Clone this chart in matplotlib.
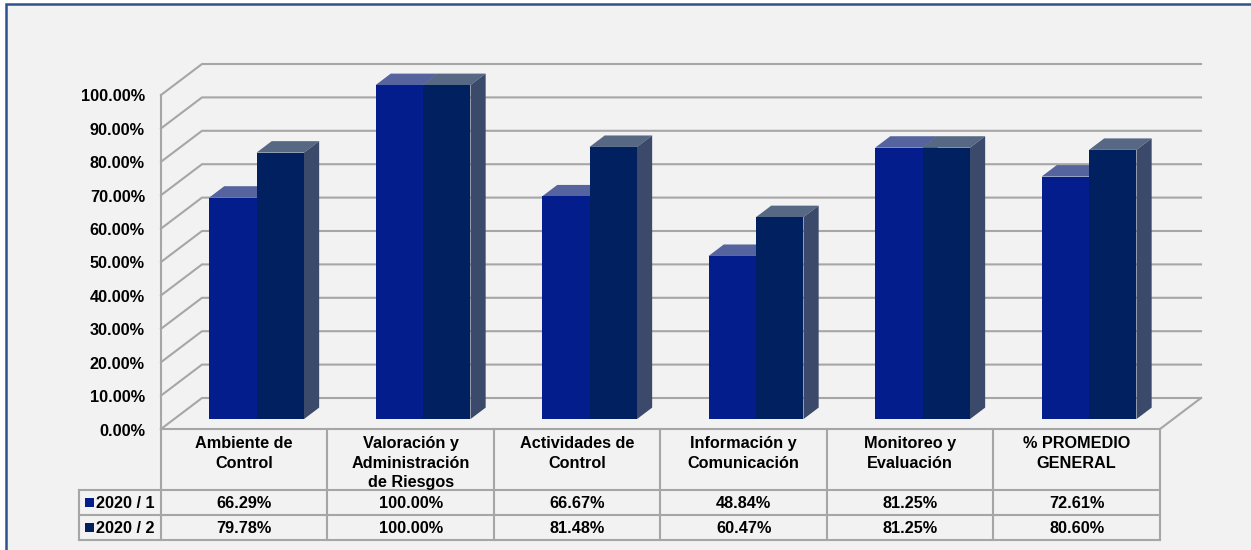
import matplotlib
matplotlib.use("Agg")
import matplotlib.pyplot as plt
from matplotlib.patches import Polygon, Rectangle

categories = ["Ambiente de\nControl", "Valoración y\nAdministración\nde Riesgos", "Actividades de\nControl",
              "Información y\nComunicación", "Monitoreo y\nEvaluación", "% PROMEDIO\nGENERAL"]
series_names = ["2020 / 1", "2020 / 2"]
values_1 = [66.29, 100.00, 66.67, 48.84, 81.25, 72.61]
values_2 = [79.78, 100.00, 81.48, 60.47, 81.25, 80.60]
y_ticks = [0, 10, 20, 30, 40, 50, 60, 70, 80, 90, 100]

# pixel scale of the picture: one category and one percent
CAT_PX = 166.5
PCT_PX = 3.34
X0_PX = 161
Y0_PX = 429
DEPTH_X = 41 / CAT_PX
DEPTH_Y = 31 / PCT_PX

FRONT = ["#041d8c", "#00205f"]
TOP = ["#55639e", "#566884"]
SIDE = "#3b4a6b"
GRID = "#a6a6a6"
BORDER = "#2f528f"
FS = 11.7

plt.rcParams["font.family"] = ["Liberation Sans", "DejaVu Sans"]
plt.rcParams["font.weight"] = "bold"

fig = plt.figure(figsize=(12.51, 5.5), dpi=100, facecolor="white")
ax = fig.add_axes([0, 0, 1, 1])
ax.set_xlim(-X0_PX / CAT_PX, (1251 - X0_PX) / CAT_PX)
ax.set_ylim(-(550 - Y0_PX) / PCT_PX, Y0_PX / PCT_PX)
ax.axis("off")


def px_x(n):
    return n / CAT_PX


def px_y(n):
    return n / PCT_PX


def pt(x, y, depth):
    return (x + depth * DEPTH_X, y + depth * DEPTH_Y)


# panel background, border only on the left and the top
left, right = ax.get_xlim()
bottom, top = ax.get_ylim()
panel_x = left + px_x(6)
panel_y = top - px_y(4)
ax.add_patch(Rectangle((panel_x, bottom), right - panel_x, panel_y - bottom,
                       facecolor="#f2f2f2", edgecolor="none", zorder=0))
ax.plot([panel_x, panel_x, right], [bottom, panel_y, panel_y], color=BORDER, lw=1.8, zorder=1,
        solid_joinstyle="miter")

n = len(categories)

# walls and floor
for t in y_ticks:
    ax.plot(*zip(pt(0, t, 0), pt(0, t, 1), pt(n, t, 1)), color=GRID, lw=1.5, zorder=2, solid_joinstyle="miter")
ax.plot(*zip(pt(0, 0, 0), pt(0, 100, 0)), color=GRID, lw=1.5, zorder=2)
ax.plot(*zip(pt(n, 0, 0), pt(n, 0, 1)), color=GRID, lw=1.5, zorder=2)

# bars
BAR_START = 0.21
BAR_W = 0.285
D0 = 0.32
D1 = 0.69
for i in range(n):
    for j, vals in enumerate([values_1, values_2]):
        v = vals[i]
        x0 = i + BAR_START + j * BAR_W
        x1 = x0 + BAR_W
        z = 3 + j
        ax.add_patch(Polygon([pt(x0, v, D0), pt(x1, v, D0), pt(x1, v, D1), pt(x0, v, D1)],
                             facecolor=TOP[j], edgecolor="none", zorder=z))
        ax.add_patch(Polygon([pt(x1, 0, D0), pt(x1, v, D0), pt(x1, v, D1), pt(x1, 0, D1)],
                             facecolor=SIDE, edgecolor="none", zorder=z))
        ax.add_patch(Polygon([pt(x0, 0, D0), pt(x1, 0, D0), pt(x1, v, D0), pt(x0, v, D0)],
                             facecolor=FRONT[j], edgecolor="none", zorder=z + 0.5))

# y tick labels
for t in y_ticks:
    ax.text(px_x(-16), t - px_y(2), f"{t:.2f}%", ha="right", va="center", fontsize=FS, color="#000000", zorder=6)

# data table
row_a = -px_y(61)
row_b = -px_y(86)
row_c = -px_y(111)
legend_left = -px_x(82)
for y, x_from in [(0, 0), (row_a, legend_left), (row_b, legend_left), (row_c, legend_left)]:
    ax.plot([x_from, n], [y, y], color=GRID, lw=1.5, zorder=2)
for i in range(n + 1):
    ax.plot([i, i], [0, row_c], color=GRID, lw=1.5, zorder=2)
ax.plot([legend_left, legend_left], [row_a, row_c], color=GRID, lw=1.5, zorder=2)

for i, name in enumerate(categories):
    ax.text(i + 0.5, -px_y(7), name, ha="center", va="top", fontsize=FS, linespacing=1.38, zorder=6)
    ax.text(i + 0.5, (row_a + row_b) / 2 - px_y(1), f"{values_1[i]:.2f}%", ha="center", va="center", fontsize=FS, zorder=6)
    ax.text(i + 0.5, (row_b + row_c) / 2 - px_y(1), f"{values_2[i]:.2f}%", ha="center", va="center", fontsize=FS, zorder=6)

for j, (name, (ya, yb)) in enumerate(zip(series_names, [(row_a, row_b), (row_b, row_c)])):
    yc = (ya + yb) / 2
    ax.add_patch(Rectangle((legend_left + px_x(6), yc - px_y(4.5)), px_x(9), px_y(9), facecolor=FRONT[j], edgecolor="none", zorder=6))
    ax.text(legend_left + px_x(17), yc - px_y(1), name, ha="left", va="center", fontsize=FS, zorder=6)

fig.savefig("out.png", dpi=100)
